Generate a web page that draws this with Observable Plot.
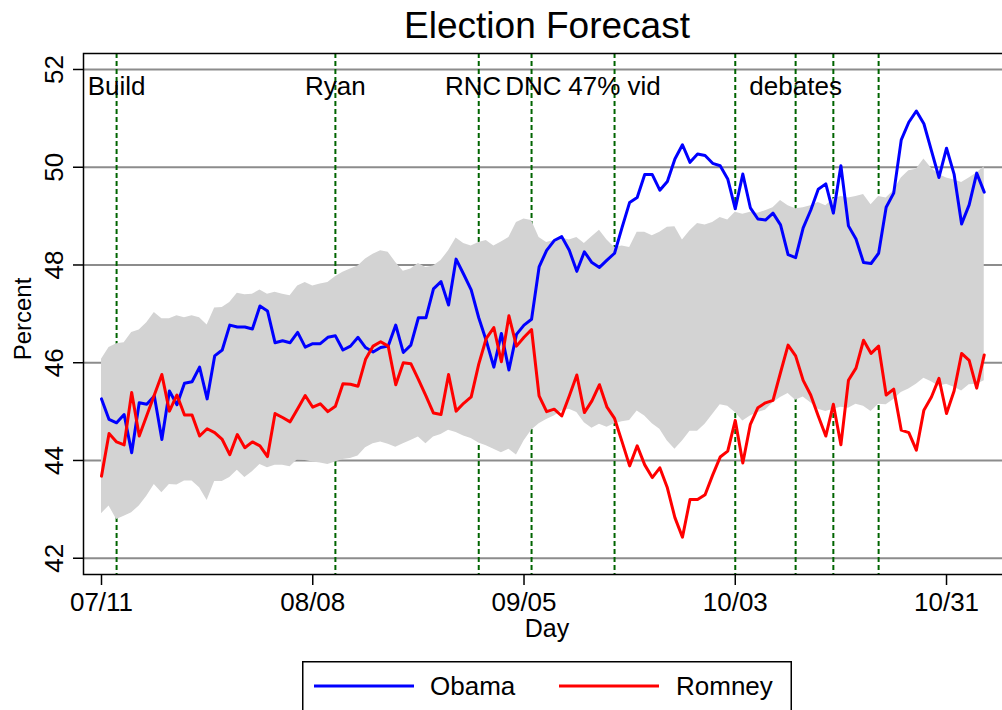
<!DOCTYPE html>
<html><head><meta charset="utf-8">
<script src="https://cdn.jsdelivr.net/npm/d3@7"></script>
<script src="https://cdn.jsdelivr.net/npm/@observablehq/plot@0.6"></script>
<style>
html,body{margin:0;padding:0;background:#fff;overflow:hidden;width:1002px;height:710px;}
#wrap{position:relative;width:1002px;height:710px;overflow:hidden;font-family:"Liberation Sans",Arial,Helvetica,sans-serif;}
#chart{position:absolute;left:0;top:0;width:1012px;}
#chart svg{max-width:none !important;}
#legend{position:absolute;left:302px;top:661px;}
</style></head><body><div id="wrap"><div id="chart"></div><div id="legend"></div></div>
<script>
// ---- data (one value per day, starting 2012-07-11) ----
const startDate = "2012-07-11";
const obama = [45.26,44.84,44.77,44.94,44.16,45.18,45.15,45.32,44.43,45.42,45.14,45.58,45.61,45.91,45.26,46.14,46.26,46.77,46.73,46.73,
46.69,47.16,47.06,46.41,46.45,46.41,46.62,46.32,46.39,46.39,46.52,46.55,46.26,46.34,46.52,46.31,46.22,46.31,46.34,46.77,
46.21,46.36,46.92,46.92,47.51,47.66,47.18,48.12,47.81,47.49,46.92,46.45,45.91,46.60,45.85,46.58,46.77,46.89,47.96,48.30,
48.50,48.58,48.30,47.87,48.27,48.05,47.95,48.10,48.24,48.77,49.28,49.38,49.85,49.85,49.53,49.71,50.17,50.46,50.10,50.27,
50.24,50.08,50.03,49.76,49.15,49.86,49.17,48.94,48.92,49.06,48.82,48.21,48.15,48.76,49.12,49.55,49.66,49.06,50.03,48.80,
48.53,48.05,48.03,48.24,49.18,49.47,50.56,50.92,51.15,50.89,50.34,49.79,50.39,49.86,48.84,49.23,49.88,49.49];
const romney = [43.68,44.55,44.38,44.32,45.39,44.50,44.92,45.34,45.76,45.01,45.34,44.93,44.93,44.50,44.65,44.57,44.43,44.12,44.53,44.26,
44.38,44.30,44.08,44.96,44.88,44.79,45.06,45.33,45.09,45.16,45.00,45.11,45.57,45.56,45.52,46.07,46.34,46.43,46.34,45.55,
46.00,45.98,45.66,45.32,44.97,44.94,45.76,45.01,45.17,45.30,45.97,46.50,46.72,46.02,46.96,46.34,46.52,46.68,45.32,45.00,
45.05,44.91,45.32,45.75,44.98,45.22,45.55,45.09,44.86,44.38,43.89,44.30,43.91,43.65,43.85,43.44,42.83,42.43,43.20,43.20,
43.30,43.70,44.07,44.19,44.82,43.95,44.74,45.08,45.18,45.23,45.80,46.36,46.14,45.64,45.34,44.91,44.50,45.15,44.32,45.64,
45.89,46.46,46.19,46.34,45.34,45.46,44.62,44.57,44.21,45.03,45.30,45.68,44.96,45.42,46.19,46.05,45.48,46.16];
const bandHigh = [46.07,46.31,46.39,46.41,46.62,46.67,46.82,47.03,46.90,46.90,46.96,46.92,46.96,46.92,46.77,47.12,47.13,47.23,47.42,47.39,
47.40,47.49,47.40,47.44,47.40,47.37,47.57,47.64,47.57,47.61,47.64,47.76,47.85,47.92,47.98,48.12,48.22,48.29,48.26,48.05,
47.87,47.92,48.03,47.95,47.98,48.09,48.29,48.55,48.44,48.39,48.46,48.50,48.39,48.47,48.56,48.87,48.94,48.91,48.56,48.46,
48.50,48.55,48.51,48.56,48.44,48.58,48.71,48.51,48.36,48.39,48.36,48.67,48.67,48.60,48.67,48.77,48.78,48.51,48.70,48.85,
48.82,48.87,48.97,48.92,49.08,49.04,49.08,49.06,49.11,49.17,49.32,49.21,49.15,49.17,49.21,49.28,49.21,49.35,49.40,49.37,
49.40,49.44,49.23,49.40,49.37,49.52,49.78,49.93,49.96,50.17,49.98,49.85,49.78,49.74,49.69,49.78,49.88,50.01];
const bandLow = [42.91,43.07,42.79,42.86,42.93,43.07,43.27,43.51,43.34,43.51,43.50,43.58,43.58,43.44,43.18,43.57,43.57,43.65,43.80,43.65,
43.77,43.92,43.85,43.90,43.90,43.87,44.02,44.00,43.97,43.95,43.92,43.97,44.02,44.04,44.09,44.26,44.34,44.38,44.33,44.27,
44.34,44.41,44.48,44.34,44.48,44.53,44.62,44.57,44.50,44.45,44.36,44.30,44.23,44.16,44.23,44.11,44.40,44.62,44.75,44.84,
44.91,45.01,45.05,44.98,44.77,44.66,44.74,44.68,44.75,44.79,44.82,45.01,44.91,44.75,44.64,44.40,44.23,44.40,44.60,44.60,
44.74,44.94,45.14,45.11,44.98,44.81,44.91,44.98,45.03,45.18,45.29,45.37,45.23,45.30,45.18,45.05,45.00,45.05,45.09,45.07,
45.15,45.11,45.00,45.15,45.14,45.25,45.39,45.46,45.56,45.68,45.61,45.52,45.56,45.50,45.42,45.55,45.56,45.63];
const eventDates = ["2012-07-13","2012-08-11","2012-08-30","2012-09-06","2012-09-17","2012-10-03","2012-10-11","2012-10-16","2012-10-22"];
const eventLabels = ["Build","Ryan","RNC","DNC","47% vid","debates"];
const eventLabelDates = ["2012-07-13T00:00","2012-08-11T00:00","2012-08-29T06:00","2012-09-06T06:00","2012-09-17T00:00","2012-10-11T00:00"];
const xTickDates = ["2012-07-11","2012-08-08","2012-09-05","2012-10-03","2012-10-31"];
const yTicks = [42,44,46,48,50,52];
const seriesNames = ["Obama","Romney"];
const seriesColors = ["#0000ff","#ff0000"];
const titleText = "Election Forecast";
const xLabel = "Day";
const yLabel = "Percent";

// ---- build tables ----
const utc = s => new Date(s + "T00:00:00Z");
const day0 = utc(startDate);
const rows = obama.map((v, i) => ({
  date: new Date(day0.getTime() + i * 864e5),
  obama: v, romney: romney[i], lo: bandLow[i], hi: bandHigh[i]
}));
const events = eventDates.map(utc);
const labels = eventLabels.map((t, i) => ({text: t, date: new Date(eventLabelDates[i] + ":00Z")}));
const xTicks = xTickDates.map(utc);

const font = '"Liberation Sans", Arial, Helvetica, sans-serif';

const chart = Plot.plot({
  width: 1012, height: 650,
  marginLeft: 83, marginRight: 2, marginTop: 53, marginBottom: 76,
  style: {fontFamily: font, fontSize: "26px", color: "black", background: "transparent", maxWidth: "none"},
  x: {type: "utc", domain: [new Date("2012-07-08T14:44:00Z"), new Date("2012-11-08T11:31:00Z")]},
  y: {domain: [41.667, 52.327]},
  marks: [
    Plot.ruleY(yTicks, {stroke: "#8c8c8c", strokeWidth: 2}),
    Plot.ruleX(events, {stroke: "#006400", strokeWidth: 2, strokeDasharray: "5,3"}),
    Plot.areaY(rows, {x: "date", y1: "lo", y2: "hi", fill: "#d3d3d3"}),
    Plot.lineY(rows, {x: "date", y: "obama", stroke: seriesColors[0], strokeWidth: 3}),
    Plot.lineY(rows, {x: "date", y: "romney", stroke: seriesColors[1], strokeWidth: 3}),
    Plot.frame({stroke: "black", strokeWidth: 1.5}),
    Plot.text(labels, {x: "date", text: "text", frameAnchor: "top", textAnchor: "middle", lineAnchor: "bottom", dy: 41, fontSize: 26, fill: "black"}),
    Plot.axisX({ticks: xTicks, tickSize: 11, tickPadding: 7, tickFormat: d3.utcFormat("%m/%d"), fontSize: 26, strokeWidth: 1.5, label: null}),
    Plot.axisY({ticks: yTicks, tickSize: 10, tickPadding: 11, tickRotate: -90, textAnchor: "middle", lineAnchor: "bottom", fontSize: 26, strokeWidth: 1.5, label: null}),
    Plot.text([titleText], {text: d => d, frameAnchor: "top", textAnchor: "middle", lineAnchor: "bottom", dy: -16, fontSize: 37}),
    Plot.text([xLabel], {text: d => d, frameAnchor: "bottom", textAnchor: "middle", lineAnchor: "top", dy: 45, fontSize: 25}),
    Plot.text([yLabel], {text: d => d, frameAnchor: "left", textAnchor: "middle", lineAnchor: "bottom", rotate: -90, dx: -53, dy: 5, fontSize: 24})
  ]
});
document.getElementById("chart").appendChild(chart);

// ---- legend ----
const lg = d3.select("#legend").append("svg").attr("width", 490).attr("height", 60)
  .style("font-family", font);
lg.append("rect").attr("x", 0.75).attr("y", 0.75).attr("width", 488.5).attr("height", 70)
  .attr("fill", "white").attr("stroke", "black").attr("stroke-width", 1.5);
const entries = [{x: 12, tx: 128}, {x: 257, tx: 374}];
seriesNames.forEach((name, i) => {
  lg.append("line").attr("x1", entries[i].x).attr("x2", entries[i].x + 100).attr("y1", 25).attr("y2", 25)
    .attr("stroke", seriesColors[i]).attr("stroke-width", 3);
  lg.append("text").attr("x", entries[i].tx).attr("y", 34).attr("font-size", 26).attr("fill", "black").text(name);
});
</script></body></html>
